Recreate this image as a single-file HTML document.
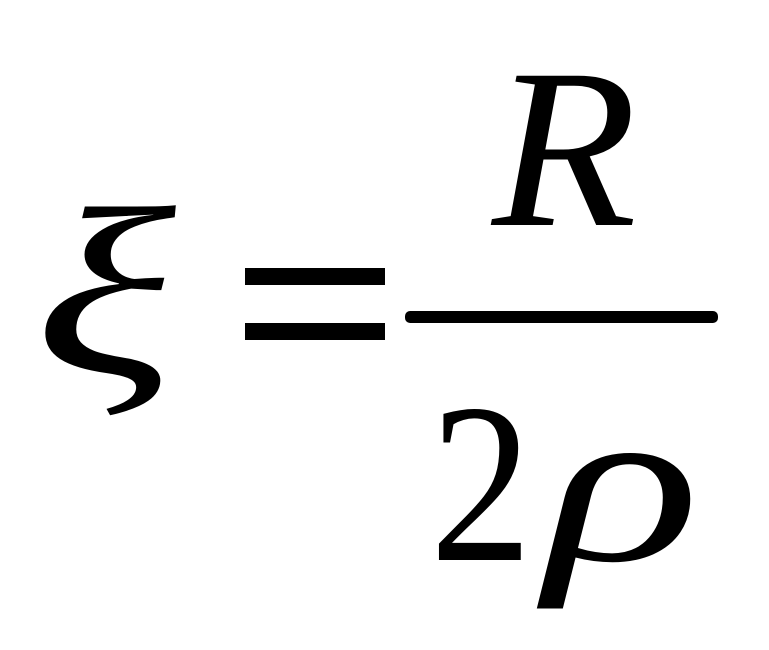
<!DOCTYPE html>
<html><head><style>
html,body{margin:0;padding:0;background:#fff;}
svg{display:block;}
</style></head><body>
<svg width="769" height="650" viewBox="0 0 769 650" xmlns="http://www.w3.org/2000/svg">
<g font-family="Liberation Serif, DejaVu Serif, serif" fill="#000">
<text x="34" y="373" font-size="240" font-style="italic" textLength="142" lengthAdjust="spacingAndGlyphs">ξ</text>
<rect x="245" y="268" width="140" height="17"/>
<rect x="245" y="323" width="140" height="17"/>
<text x="492" y="225" font-size="228" font-style="italic" textLength="145" lengthAdjust="spacingAndGlyphs">R</text>
<rect x="405" y="311" width="313" height="12" rx="5"/>
<text x="430" y="560" font-size="228" textLength="102" lengthAdjust="spacingAndGlyphs">2</text>
<text x="545" y="560" font-size="228" font-style="italic" textLength="155" lengthAdjust="spacingAndGlyphs">ρ</text>
</g>
</svg>
</body></html>
